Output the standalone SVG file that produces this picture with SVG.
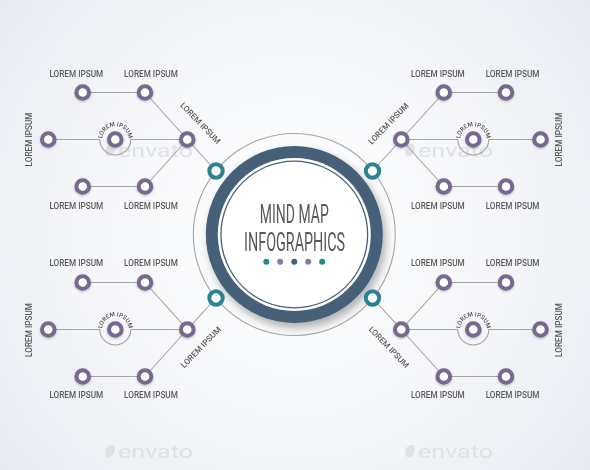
<svg xmlns="http://www.w3.org/2000/svg" width="590" height="470" viewBox="0 0 590 470">
<defs>
<radialGradient id="bg" cx="295" cy="235" r="380" gradientUnits="userSpaceOnUse">
<stop offset="0" stop-color="#ffffff"/>
<stop offset="0.6" stop-color="#f3f5f8"/>
<stop offset="1" stop-color="#e6eaf0"/>
</radialGradient>
<filter id="sh" x="-30%" y="-30%" width="160%" height="160%">
<feDropShadow dx="3" dy="5" stdDeviation="4" flood-color="#000" flood-opacity="0.3"/>
</filter>
<filter id="nsh" x="-50%" y="-50%" width="200%" height="200%">
<feDropShadow dx="0" dy="1" stdDeviation="0.8" flood-color="#000" flood-opacity="0.25"/>
</filter>
<path id="a1" d="M102 139.5 A13.3 13.3 0 0 1 128.6 139.5"/>
<path id="a2" d="M460 139.5 A13.3 13.3 0 0 1 486.6 139.5"/>
<path id="a3" d="M102 329.5 A13.3 13.3 0 0 1 128.6 329.5"/>
<path id="a4" d="M460 329.5 A13.3 13.3 0 0 1 486.6 329.5"/>
<style>
.n{fill:#fff;stroke:#76678f;stroke-width:4;filter:url(#nsh)}
.t{fill:#fff;stroke:#2b8392;stroke-width:4}
.c{fill:none;stroke:#a5a5a5;stroke-width:1.1}
.l{font-family:Roboto,"Liberation Sans",sans-serif;font-weight:500;font-size:8.2px;fill:#5b5b5b;text-anchor:middle}
.s{font-family:Roboto,"Liberation Sans",sans-serif;font-weight:500;font-size:6px;fill:#4f4f4f;text-anchor:middle}
.w{font-family:Roboto,"Liberation Sans",sans-serif;font-size:19px;fill:#d9dce1}
.ttl{font-family:Roboto,"Liberation Sans",sans-serif;font-weight:400;font-size:25px;fill:#585858;text-anchor:middle}
</style>
</defs>
<rect width="590" height="470" fill="url(#bg)"/>
<g id="watermarks" opacity="0.8">
<ellipse cx="110" cy="150" rx="4.5" ry="6.5" transform="rotate(25 110 150)" fill="#d9dce1"/>
<text class="w" x="118" y="157" textLength="75" lengthAdjust="spacingAndGlyphs">envato</text>
<ellipse cx="410" cy="150" rx="4.5" ry="6.5" transform="rotate(25 410 150)" fill="#d9dce1"/>
<text class="w" x="418" y="157" textLength="75" lengthAdjust="spacingAndGlyphs">envato</text>
<ellipse cx="110" cy="451" rx="4.5" ry="6.5" transform="rotate(25 110 451)" fill="#d9dce1"/>
<text class="w" x="118" y="458" textLength="75" lengthAdjust="spacingAndGlyphs">envato</text>
<ellipse cx="410" cy="451" rx="4.5" ry="6.5" transform="rotate(25 410 451)" fill="#d9dce1"/>
<text class="w" x="418" y="458" textLength="75" lengthAdjust="spacingAndGlyphs">envato</text>
</g>
<g id="connectors">
<circle class="c" cx="294.3" cy="234.5" r="101"/>
<path class="c" d="M82.7 92.5H145L187.3 139.5L216 171M145 186.5H82.7M145 186.5L187.3 139.5M48.3 139.5H99.8A15.5 15.5 0 0 0 130.8 139.5H187.3"/>
<path class="c" d="M506 92.5H443.8L401.3 139.5L372.5 171M443.8 186.5H506M443.8 186.5L401.3 139.5M401.3 139.5H457.8A15.5 15.5 0 0 0 488.8 139.5H540.5"/>
<path class="c" d="M82.7 282.5H145L187.3 329.5L216 298M145 376.5H82.7M145 376.5L187.3 329.5M48.3 329.5H99.8A15.5 15.5 0 0 0 130.8 329.5H187.3"/>
<path class="c" d="M506 282.5H443.8L401.3 329.5L372.5 298M443.8 376.5H506M443.8 376.5L401.3 329.5M401.3 329.5H457.8A15.5 15.5 0 0 0 488.8 329.5H540.5"/>
</g>
<g id="center">
<circle cx="294.3" cy="234.5" r="88.5" fill="#46607a" filter="url(#sh)"/>
<circle cx="294.3" cy="234.5" r="76.5" fill="#fff"/>
<circle cx="294.3" cy="234.5" r="74" fill="#46607a"/>
<circle cx="294.3" cy="234.5" r="72.7" fill="#fff"/>
<text class="ttl" x="294.3" y="222.7" textLength="69" lengthAdjust="spacingAndGlyphs">MIND MAP</text>
<text class="ttl" x="294.6" y="250.7" textLength="101" lengthAdjust="spacingAndGlyphs">INFOGRAPHICS</text>
<circle cx="266.3" cy="261.7" r="3" fill="#2b8392"/>
<circle cx="280.2" cy="261.7" r="3" fill="#8a7aa3"/>
<circle cx="294.3" cy="261.7" r="3" fill="#46607a"/>
<circle cx="308.2" cy="261.7" r="3" fill="#8a7aa3"/>
<circle cx="322.2" cy="261.7" r="3" fill="#2b8392"/>
</g>
<g id="teal-nodes">
<circle class="t" cx="216" cy="171" r="6.7"/>
<circle class="t" cx="372.5" cy="171" r="6.7"/>
<circle class="t" cx="216" cy="298" r="6.7"/>
<circle class="t" cx="372.5" cy="298" r="6.7"/>
</g>
<g id="cluster-top-left">
<circle class="n" cx="187.3" cy="139.5" r="6.3"/>
<circle class="n" cx="82.7" cy="92.5" r="6.3"/>
<circle class="n" cx="145" cy="92.5" r="6.3"/>
<circle class="n" cx="48.3" cy="139.5" r="6.3"/>
<circle class="n" cx="115.3" cy="139.5" r="6.3"/>
<circle class="n" cx="82.7" cy="186.5" r="6.3"/>
<circle class="n" cx="145" cy="186.5" r="6.3"/>
<text class="l" x="76.3" y="77">LOREM IPSUM</text>
<text class="l" x="151" y="77">LOREM IPSUM</text>
<text class="l" x="76.3" y="208.7">LOREM IPSUM</text>
<text class="l" x="151" y="208.7">LOREM IPSUM</text>
<text class="l" transform="translate(29.3 139.5) rotate(-90)" y="3">LOREM IPSUM</text>
<text class="l" transform="translate(200.5 123) rotate(46)" y="3">LOREM IPSUM</text>
<text class="s"><textPath href="#a1" startOffset="50%">LOREM IPSUM</textPath></text>
</g>
<g id="cluster-top-right">
<circle class="n" cx="401.3" cy="139.5" r="6.3"/>
<circle class="n" cx="443.8" cy="92.5" r="6.3"/>
<circle class="n" cx="506" cy="92.5" r="6.3"/>
<circle class="n" cx="473.3" cy="139.5" r="6.3"/>
<circle class="n" cx="540.5" cy="139.5" r="6.3"/>
<circle class="n" cx="443.8" cy="186.5" r="6.3"/>
<circle class="n" cx="506" cy="186.5" r="6.3"/>
<text class="l" x="437.8" y="77">LOREM IPSUM</text>
<text class="l" x="512.6" y="77">LOREM IPSUM</text>
<text class="l" x="437.8" y="208.7">LOREM IPSUM</text>
<text class="l" x="512.6" y="208.7">LOREM IPSUM</text>
<text class="l" transform="translate(559.3 139.5) rotate(-90)" y="3">LOREM IPSUM</text>
<text class="l" transform="translate(388.3 123.5) rotate(-46)" y="3">LOREM IPSUM</text>
<text class="s"><textPath href="#a2" startOffset="50%">LOREM IPSUM</textPath></text>
</g>
<g id="cluster-bottom-left">
<circle class="n" cx="187.3" cy="329.5" r="6.3"/>
<circle class="n" cx="82.7" cy="282.5" r="6.3"/>
<circle class="n" cx="145" cy="282.5" r="6.3"/>
<circle class="n" cx="48.3" cy="329.5" r="6.3"/>
<circle class="n" cx="115.3" cy="329.5" r="6.3"/>
<circle class="n" cx="82.7" cy="376.5" r="6.3"/>
<circle class="n" cx="145" cy="376.5" r="6.3"/>
<text class="l" x="76.3" y="266">LOREM IPSUM</text>
<text class="l" x="151" y="266">LOREM IPSUM</text>
<text class="l" x="76.3" y="398">LOREM IPSUM</text>
<text class="l" x="151" y="398">LOREM IPSUM</text>
<text class="l" transform="translate(29.3 330) rotate(-90)" y="3">LOREM IPSUM</text>
<text class="l" transform="translate(200.8 347) rotate(-46)" y="3">LOREM IPSUM</text>
<text class="s"><textPath href="#a3" startOffset="50%">LOREM IPSUM</textPath></text>
</g>
<g id="cluster-bottom-right">
<circle class="n" cx="401.3" cy="329.5" r="6.3"/>
<circle class="n" cx="443.8" cy="282.5" r="6.3"/>
<circle class="n" cx="506" cy="282.5" r="6.3"/>
<circle class="n" cx="473.3" cy="329.5" r="6.3"/>
<circle class="n" cx="540.5" cy="329.5" r="6.3"/>
<circle class="n" cx="443.8" cy="376.5" r="6.3"/>
<circle class="n" cx="506" cy="376.5" r="6.3"/>
<text class="l" x="437.8" y="266">LOREM IPSUM</text>
<text class="l" x="512.6" y="266">LOREM IPSUM</text>
<text class="l" x="437.8" y="398">LOREM IPSUM</text>
<text class="l" x="512.6" y="398">LOREM IPSUM</text>
<text class="l" transform="translate(559.3 330) rotate(-90)" y="3">LOREM IPSUM</text>
<text class="l" transform="translate(389 347) rotate(46)" y="3">LOREM IPSUM</text>
<text class="s"><textPath href="#a4" startOffset="50%">LOREM IPSUM</textPath></text>
</g>
</svg>
